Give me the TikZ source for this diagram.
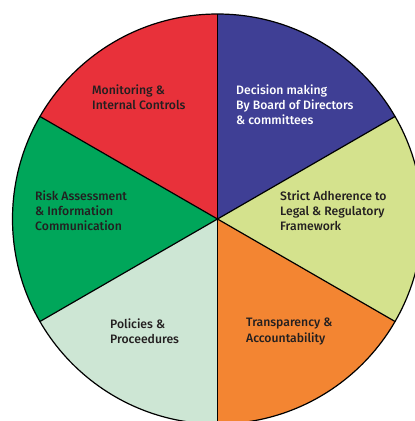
\documentclass[tikz,border=0pt]{standalone}
\usepackage{fontspec}
\setmainfont{Fira Sans Medium}
\definecolor{pieRed}{HTML}{E8313A}
\definecolor{pieBlue}{HTML}{3F3F95}
\definecolor{pieGreen}{HTML}{00A65A}
\definecolor{pieMint}{HTML}{CDE6D4}
\definecolor{pieOrange}{HTML}{F38532}
\definecolor{pieLime}{HTML}{D4E28D}
\definecolor{pieText}{HTML}{231F20}

\begin{document}
\begin{tikzpicture}[x=1pt,y=1pt,slice/.style={draw=black,line width=1.2pt},
  label/.style={anchor=west,align=left,inner sep=0pt,font=\fontsize{12.2}{15.2}\selectfont,text=pieText}]
  \useasboundingbox (-217.5,-202) rectangle (197.5,219);
  \coordinate (o) at (0,0);
  % the six slices
  \fill[pieLime] (o) -- (-30:205) arc[start angle=-30,end angle=30,radius=205] -- cycle;
  \fill[pieBlue] (o) -- (30:205) arc[start angle=30,end angle=90,radius=205] -- cycle;
  \fill[pieRed] (o) -- (90:205) arc[start angle=90,end angle=150,radius=205] -- cycle;
  \fill[pieGreen] (o) -- (150:205) arc[start angle=150,end angle=210,radius=205] -- cycle;
  \fill[pieMint] (o) -- (210:205) arc[start angle=210,end angle=270,radius=205] -- cycle;
  \fill[pieOrange] (o) -- (270:205) arc[start angle=270,end angle=330,radius=205] -- cycle;
  \draw[slice] (o) circle[radius=205];
  \draw[slice] (90:205) -- (270:205);
  \draw[slice] (30:205) -- (210:205);
  \draw[slice] (150:205) -- (330:205);

  \node[label] (monitor) at (-125.5,121.5) {Monitoring \&\\Internal Controls};
  \node[label,text=white] (decision) at (18.5,114) {Decision making\\By Board of Directors\\\& committees};
  \node[label] (risk) at (-182.5,8) {Risk Assessment\\\& Information\\Communication};
  \node[label] (strict) at (62.5,8) {Strict Adherence to\\Legal \& Regulatory\\Framework};
  \node[label] (policies) at (-107.5,-112) {Policies \&\\Proceedures};
  \node[label] (transp) at (28.5,-112.5) {Transparency \&\\Accountability};
\end{tikzpicture}
\end{document}
